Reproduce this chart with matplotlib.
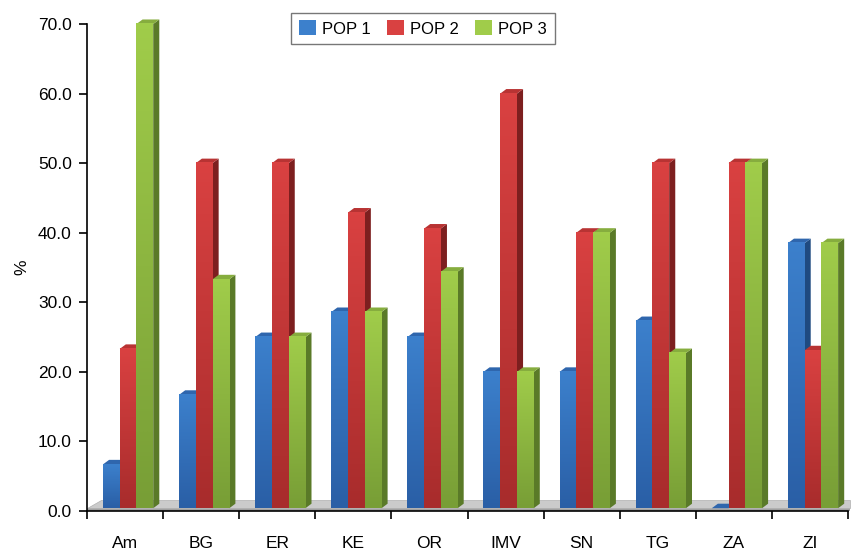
import numpy as np
import matplotlib
matplotlib.use("Agg")
import matplotlib.pyplot as plt
from matplotlib.patches import Polygon, Patch
from matplotlib.colors import LinearSegmentedColormap

plt.rcParams['font.family'] = ['Liberation Sans', 'DejaVu Sans']

categories = ["Am", "BG", "ER", "KE", "OR", "IMV", "SN", "TG", "ZA", "ZI"]
pop1 = [6.7, 16.7, 25.0, 28.6, 25.0, 20.0, 20.0, 27.3, 0.0, 38.5]
pop2 = [23.3, 50.0, 50.0, 42.9, 40.6, 60.0, 40.0, 50.0, 50.0, 23.1]
pop3 = [70.0, 33.3, 25.0, 28.6, 34.4, 20.0, 40.0, 22.7, 50.0, 38.5]
series = ["POP 1", "POP 2", "POP 3"]

# (top colour, bottom colour, side colour, cap colour)
styles = [
    ("#3c80cc", "#2a5fa6", "#1f4a80", "#2f66ad"),
    ("#d94141", "#a82c2c", "#7d1f1f", "#b83333"),
    ("#a0cc4a", "#789e36", "#5a7a28", "#86ad3e"),
]

fig = plt.figure(figsize=(8.51, 5.51), dpi=100)
ax = fig.add_axes([87 / 851, 1 - 511 / 551, (848 - 87) / 851, (511 - 24) / 551])

w = 0.22      # bar width
off = 0.04    # shift of the front faces inside a group
ddx, ddy = 0.08, 0.65   # 3D depth offset
base = 0.4    # bars stand on the floor slab

# grey floor slab
fl_dx, fl_dy = 0.18, 1.2
ax.add_patch(Polygon([(-0.5, 0.0), (9.5 + 0.02, 0.0), (9.5 + 0.02, base), (-0.5, base)],
                     closed=True, fc="#a0a0a0", ec="none", zorder=1, clip_on=False))
ax.add_patch(Polygon([(-0.5, base), (9.5 + 0.02, base), (9.5 + 0.02, base + fl_dy),
                      (-0.5 + fl_dx, base + fl_dy)],
                     closed=True, fc="#cbcbcb", ec="#b0b0b0", lw=0.5, zorder=1, clip_on=False))

grad = np.linspace(0, 1, 64).reshape(-1, 1)
for j, vals in enumerate([pop1, pop2, pop3]):
    top_c, bot_c, side_c, cap_c = styles[j]
    cmap = LinearSegmentedColormap.from_list("g%d" % j, [bot_c, top_c])
    for i, v in enumerate(vals):
        x0 = i + off + (j - 1.5) * w
        x1 = x0 + w
        z = 3 + j * 0.01
        top = max(v, base)
        # side face
        ax.add_patch(Polygon([(x1, base), (x1 + ddx, base + ddy), (x1 + ddx, top + ddy), (x1, top)],
                             closed=True, fc=side_c, ec="none", zorder=z, clip_on=False))
        # top cap
        ax.add_patch(Polygon([(x0, top), (x1, top), (x1 + ddx, top + ddy), (x0 + ddx, top + ddy)],
                             closed=True, fc=cap_c, ec="none", zorder=z, clip_on=False))
        # front face with vertical gradient
        if v > base:
            im = ax.imshow(grad, extent=[x0, x1, base, v], origin="lower", cmap=cmap,
                           aspect="auto", zorder=z + 0.005, interpolation="bilinear")
            im.set_clip_on(False)

ax.set_xlim(-0.5, 9.5)
ax.set_ylim(0, 70)

ax.set_yticks(np.arange(0, 71, 10))
ax.set_yticklabels(["%.1f" % t for t in np.arange(0, 71, 10)], fontsize=12.5)
ax.set_xticks(np.arange(-0.5, 10, 1))
ax.set_xticklabels([])
ax.set_xticks(np.arange(10), minor=True)
ax.set_xticklabels(categories, minor=True, fontsize=12.5)
ax.tick_params(axis="x", which="minor", length=0, pad=18)
ax.tick_params(axis="x", which="major", length=6, width=1.2, direction="out")
ax.tick_params(axis="y", length=6, width=1.2, direction="out", pad=5)
ax.spines["top"].set_visible(False)
ax.spines["right"].set_visible(False)
ax.spines["left"].set_linewidth(1.2)
ax.spines["bottom"].set_linewidth(1.2)
ax.set_ylabel("%", fontsize=12.5, labelpad=6)

handles = [Patch(fc=styles[k][0], ec="none") for k in range(3)]
fig.legend(handles, series, loc="center", bbox_to_anchor=(423 / 851, 1 - 28.5 / 551),
           ncol=3, fontsize=12, frameon=True, fancybox=False, edgecolor="#555555",
           handlelength=1.0, handleheight=1.0, handletextpad=0.4, columnspacing=0.95,
           borderpad=0.45)

fig.savefig("out.png", dpi=100)
